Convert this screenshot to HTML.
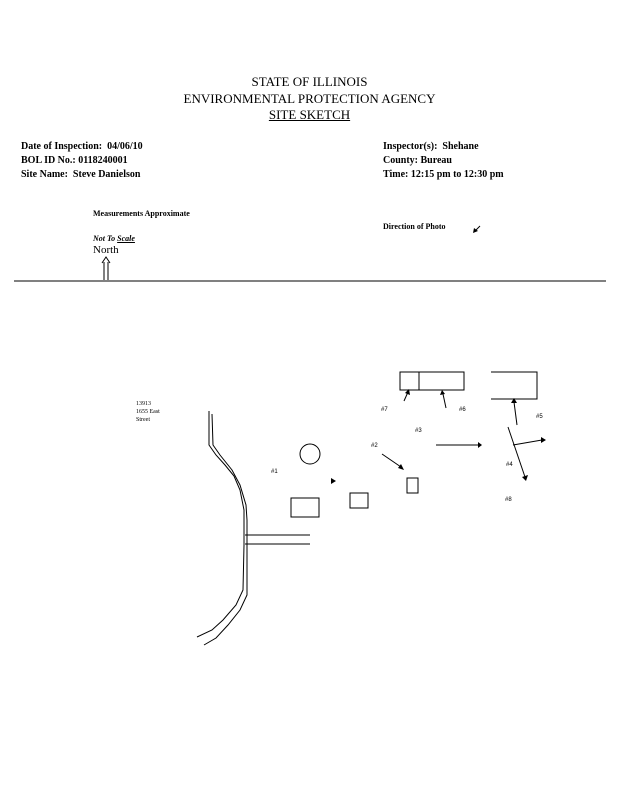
<!DOCTYPE html>
<html><head><style>
body{margin:0;background:#fff;width:619px;height:800px;overflow:hidden;position:relative;font-family:"Liberation Serif",serif;color:#000}
.t{position:absolute;white-space:nowrap}
.b{font-weight:bold;font-size:10px}
</style></head><body>
<div class="t" style="left:0;width:619px;text-align:center;top:74px;font-size:13px;line-height:16.5px">STATE OF ILLINOIS<br>ENVIRONMENTAL PROTECTION AGENCY<br><u>SITE SKETCH</u></div>
<div class="t b" style="left:21px;top:140px;line-height:14px">Date of Inspection:&nbsp; 04/06/10<br>BOL ID No.: 0118240001<br>Site Name:&nbsp; Steve Danielson</div>
<div class="t b" style="left:383px;top:140px;line-height:14px">Inspector(s):&nbsp; Shehane<br>County: Bureau<br>Time: 12:15 pm to 12:30 pm</div>
<div class="t" style="left:93px;top:209px;font-size:8px;font-weight:bold">Measurements Approximate</div>
<div class="t" style="left:383px;top:222px;font-size:8px;font-weight:bold">Direction of Photo</div>
<div class="t" style="left:93px;top:234px;font-size:8px;font-style:italic;font-weight:bold">Not To <u>Scale</u></div>
<div class="t" style="left:93px;top:244px;font-size:11px">North</div>
<div class="t" style="left:136px;top:400px;font-size:6px;line-height:8px">13913<br>1655 East<br>Street</div>
<svg width="619" height="800" style="position:absolute;left:0;top:0" font-family="Liberation Sans" font-size="6">
<g stroke="#000" fill="none" stroke-width="1">
<line x1="14" y1="281" x2="606" y2="281"/>
<path d="M104 280V262M108 280V262M102 263L106 257L110 263"/>
<line x1="474" y1="232" x2="480" y2="226"/>
<rect x="400" y="372" width="19" height="18"/><rect x="419" y="372" width="45" height="18"/>
<path d="M491 372H537V399H491"/>
<circle cx="310" cy="454" r="10"/>
<rect x="291" y="498" width="28" height="19"/>
<rect x="350" y="493" width="18" height="15"/>
<rect x="407" y="478" width="11" height="15"/>
<line x1="436" y1="445" x2="478" y2="445"/>
<line x1="382" y1="454" x2="401" y2="467"/>
<line x1="508" y1="427" x2="525" y2="477"/>
<line x1="513" y1="445" x2="542" y2="440"/>
<line x1="517" y1="425" x2="514" y2="402"/>
<line x1="404" y1="401" x2="408" y2="392"/>
<line x1="446" y1="408" x2="443" y2="394"/>
<path d="M209 411V445L216 455L225 465L234 476L240 490L244 510V545L243 590L236 605L223 620L212 630L197 637"/>
<path d="M212 414L213 445L220 455L232 470L240 485L246 505L247 520V545L247 595L240 610L228 625L216 638L204 645"/>
<line x1="245" y1="535" x2="310" y2="535"/><line x1="245" y1="544" x2="310" y2="544"/>
</g>
<g fill="#000">
<path d="M478 442L482 445L478 448Z"/><path d="M398 468L404 470L401 464Z"/>
<path d="M522 477L526 481L528 475Z"/><path d="M541 437L546 440L541 443Z"/>
<path d="M511 403L514 398L517 403Z"/><path d="M405 393L409 389L410 395Z"/>
<path d="M440 395L442 390L445 394Z"/><path d="M473 233L474 228L478 231Z"/>
<path d="M331 478L336 481L331 484Z"/>
<text x="381" y="411">#7</text><text x="459" y="411">#6</text><text x="536" y="418">#5</text>
<text x="415" y="432">#3</text><text x="371" y="447">#2</text><text x="271" y="473">#1</text>
<text x="506" y="466">#4</text><text x="505" y="501">#8</text>
</g>
</svg>
</body></html>
